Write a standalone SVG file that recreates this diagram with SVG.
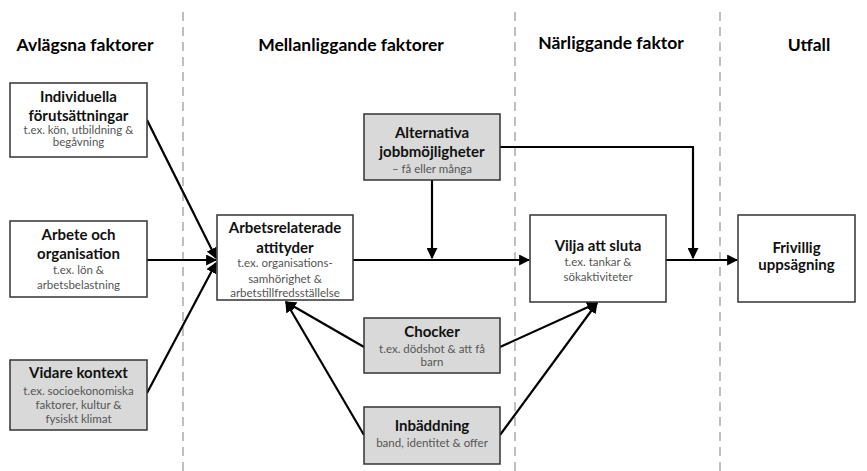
<svg xmlns="http://www.w3.org/2000/svg" width="867" height="471" viewBox="0 0 867 471">
<defs>
<style>
.hd{font-family:Lato,"Liberation Sans",sans-serif;font-weight:bold;font-size:17.5px;fill:#000;text-anchor:middle}
.t{font-family:Lato,"Liberation Sans",sans-serif;font-weight:bold;font-size:15px;fill:#111;text-anchor:middle}
.s{font-family:Lato,"Liberation Sans",sans-serif;font-size:11.5px;fill:#555;text-anchor:middle}
.w{fill:#fff;stroke:#333;stroke-width:1.5}
.g{fill:#d9d9d9;stroke:#333;stroke-width:1.5}
.dash{stroke:#bfbfbf;stroke-width:2;stroke-dasharray:9 6;fill:none}
.c{stroke:#000;stroke-width:2.2;fill:none}
</style>
<marker id="ah" viewBox="0 0 10 10" refX="9" refY="5" markerWidth="5" markerHeight="5" orient="auto" markerUnits="strokeWidth">
<path d="M0,0 L10,5 L0,10 z" fill="#000"/>
</marker>
</defs>
<rect width="867" height="471" fill="#fff"/>
<g id="dividers">
<line class="dash" x1="183" y1="12" x2="183" y2="471"/>
<line class="dash" x1="515" y1="12" x2="515" y2="471"/>
<line class="dash" x1="720" y1="12" x2="720" y2="471"/>
</g>
<g id="headers">
<text class="hd" x="85" y="51">Avlägsna faktorer</text>
<text class="hd" x="351" y="51">Mellanliggande faktorer</text>
<text class="hd" x="611" y="49">Närliggande faktor</text>
<text class="hd" x="809" y="51">Utfall</text>
</g>
<g id="connectors">
<line class="c" x1="147" y1="120" x2="216" y2="258" marker-end="url(#ah)"/>
<line class="c" x1="147" y1="260" x2="216" y2="260" marker-end="url(#ah)"/>
<line class="c" x1="147" y1="393" x2="216" y2="263" marker-end="url(#ah)"/>
<line class="c" x1="353" y1="260" x2="529" y2="260" marker-end="url(#ah)"/>
<line class="c" x1="432" y1="180" x2="432" y2="258" marker-end="url(#ah)"/>
<polyline class="c" points="500,147 693,147 693,258" marker-end="url(#ah)"/>
<line class="c" x1="666" y1="260" x2="737" y2="260" marker-end="url(#ah)"/>
<line class="c" x1="364" y1="347" x2="286" y2="302" marker-end="url(#ah)"/>
<line class="c" x1="364" y1="435" x2="286" y2="302" marker-end="url(#ah)"/>
<line class="c" x1="500" y1="347" x2="597" y2="303" marker-end="url(#ah)"/>
<line class="c" x1="500" y1="435" x2="597" y2="303" marker-end="url(#ah)"/>
</g>
<g id="individuella">
<rect class="w" x="10" y="83" width="137" height="74"/>
<text class="t" x="78.5" y="102">Individuella</text>
<text class="t" x="78.5" y="121">förutsättningar</text>
<text class="s" x="78.5" y="134">t.ex. kön, utbildning &amp;</text>
<text class="s" x="78.5" y="146">begåvning</text>
</g>
<g id="arbete">
<rect class="w" x="10" y="221" width="137" height="76"/>
<text class="t" x="78.5" y="240">Arbete och</text>
<text class="t" x="78.5" y="259">organisation</text>
<text class="s" x="78.5" y="274">t.ex. lön &amp;</text>
<text class="s" x="78.5" y="289">arbetsbelastning</text>
</g>
<g id="vidare">
<rect class="g" x="10" y="360" width="137" height="70"/>
<text class="t" x="78.5" y="378">Vidare kontext</text>
<text class="s" x="78.5" y="395">t.ex. socioekonomiska</text>
<text class="s" x="78.5" y="409">faktorer, kultur &amp;</text>
<text class="s" x="78.5" y="423">fysiskt klimat</text>
</g>
<g id="attityder">
<rect class="w" x="217" y="215" width="136" height="85"/>
<text class="t" x="285" y="233">Arbetsrelaterade</text>
<text class="t" x="285" y="253">attityder</text>
<text class="s" x="285" y="267">t.ex. organisations-</text>
<text class="s" x="285" y="283">samhörighet &amp;</text>
<text class="s" x="285" y="297">arbetstillfredsställelse</text>
</g>
<g id="alternativa">
<rect class="g" x="364" y="114" width="136" height="66"/>
<text class="t" x="432" y="138">Alternativa</text>
<text class="t" x="432" y="157">jobbmöjligheter</text>
<text class="s" x="432" y="173">– få eller många</text>
</g>
<g id="chocker">
<rect class="g" x="364" y="318" width="136" height="55"/>
<text class="t" x="432" y="337">Chocker</text>
<text class="s" x="432" y="353">t.ex. dödshot &amp; att få</text>
<text class="s" x="432" y="366">barn</text>
</g>
<g id="inbaddning">
<rect class="g" x="364" y="407" width="136" height="57"/>
<text class="t" x="432" y="431">Inbäddning</text>
<text class="s" x="432" y="447">band, identitet &amp; offer</text>
</g>
<g id="vilja">
<rect class="w" x="530" y="215" width="136" height="87"/>
<text class="t" x="598" y="251">Vilja att sluta</text>
<text class="s" x="598" y="266">t.ex. tankar &amp;</text>
<text class="s" x="598" y="281">sökaktiviteter</text>
</g>
<g id="frivillig">
<rect class="w" x="738" y="215" width="117" height="87"/>
<text class="t" x="796.5" y="253">Frivillig</text>
<text class="t" x="796.5" y="270">uppsägning</text>
</g>
</svg>
